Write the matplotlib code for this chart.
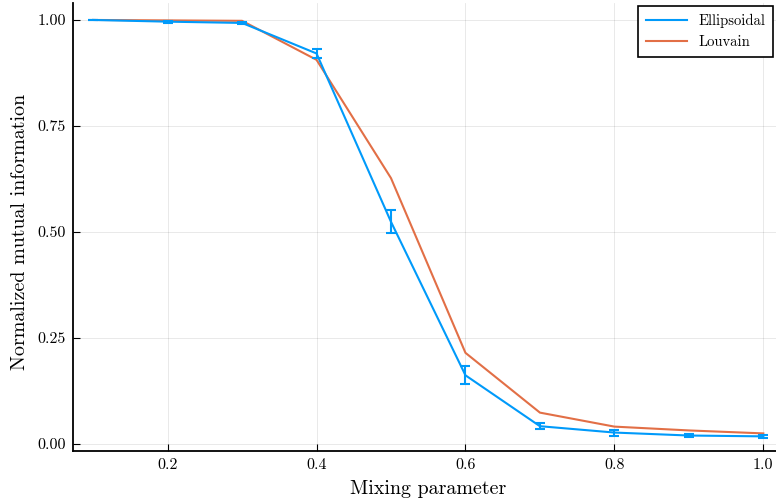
import matplotlib
matplotlib.use("Agg")
import matplotlib.pyplot as plt
from matplotlib.lines import Line2D

mixing = [0.1, 0.2, 0.3, 0.4, 0.5, 0.6, 0.7, 0.8, 0.9, 1.0]
ellipsoidal = [1.0, 0.996, 0.993, 0.921, 0.524, 0.162, 0.042, 0.027, 0.020, 0.018]
ellipsoidal_err = [0.0005, 0.002, 0.002, 0.010, 0.027, 0.021, 0.007, 0.007, 0.003, 0.004]
louvain = [1.0, 0.999, 0.998, 0.906, 0.627, 0.215, 0.074, 0.041, 0.032, 0.025]
xticks = [0.2, 0.4, 0.6, 0.8, 1.0]
yticks = [0.0, 0.25, 0.5, 0.75, 1.0]

plt.rcParams['font.family'] = ['cmr10', 'DejaVu Serif']
plt.rcParams['axes.formatter.use_mathtext'] = True

fig = plt.figure(figsize=(7.76, 4.99), dpi=100)
ax = fig.add_axes([73/776, 1-451/499, (776-73)/776, (451-3)/499])

blue = '#009AFA'
orange = '#E26F46'
ax.errorbar(mixing, ellipsoidal, yerr=ellipsoidal_err, color=blue, lw=1.5,
            capsize=3.5, capthick=1.5, elinewidth=1.5, zorder=3)
ax.plot(mixing, louvain, color=orange, lw=1.5, zorder=2)

ax.set_xlim(0.073, 1.017)
ax.set_ylim(-0.0165, 1.040)
ax.set_xticks(xticks)
ax.set_xticklabels([f"{v:.1f}" for v in xticks])
ax.set_yticks(yticks)
ax.set_yticklabels([f"{v:.2f}" for v in yticks])
ax.grid(True, color='black', alpha=0.1, lw=0.6)
ax.set_axisbelow(True)
for s in ['top', 'right']:
    ax.spines[s].set_visible(False)
for s in ['left', 'bottom']:
    ax.spines[s].set_linewidth(1.3)
ax.tick_params(direction='in', length=5, width=0.8, labelsize=11.5, pad=5)
ax.set_xlabel('Mixing parameter', fontsize=14.4)
ax.set_ylabel('Normalized mutual information', fontsize=14.4)
ax.xaxis.set_label_coords(0.505, -0.064)
ax.yaxis.set_label_coords(-0.063, 0.488)

handles = [Line2D([], [], color=blue, lw=1.5), Line2D([], [], color=orange, lw=1.5)]
leg = ax.legend(handles, ['Ellipsoidal', 'Louvain'], loc='upper right', fontsize=10.5,
                frameon=True, fancybox=False, edgecolor='black', framealpha=1,
                borderaxespad=0.2, handlelength=2.8, borderpad=0.55, labelspacing=0.5)
leg.get_frame().set_linewidth(1.2)

fig.savefig('out.png', dpi=100)
